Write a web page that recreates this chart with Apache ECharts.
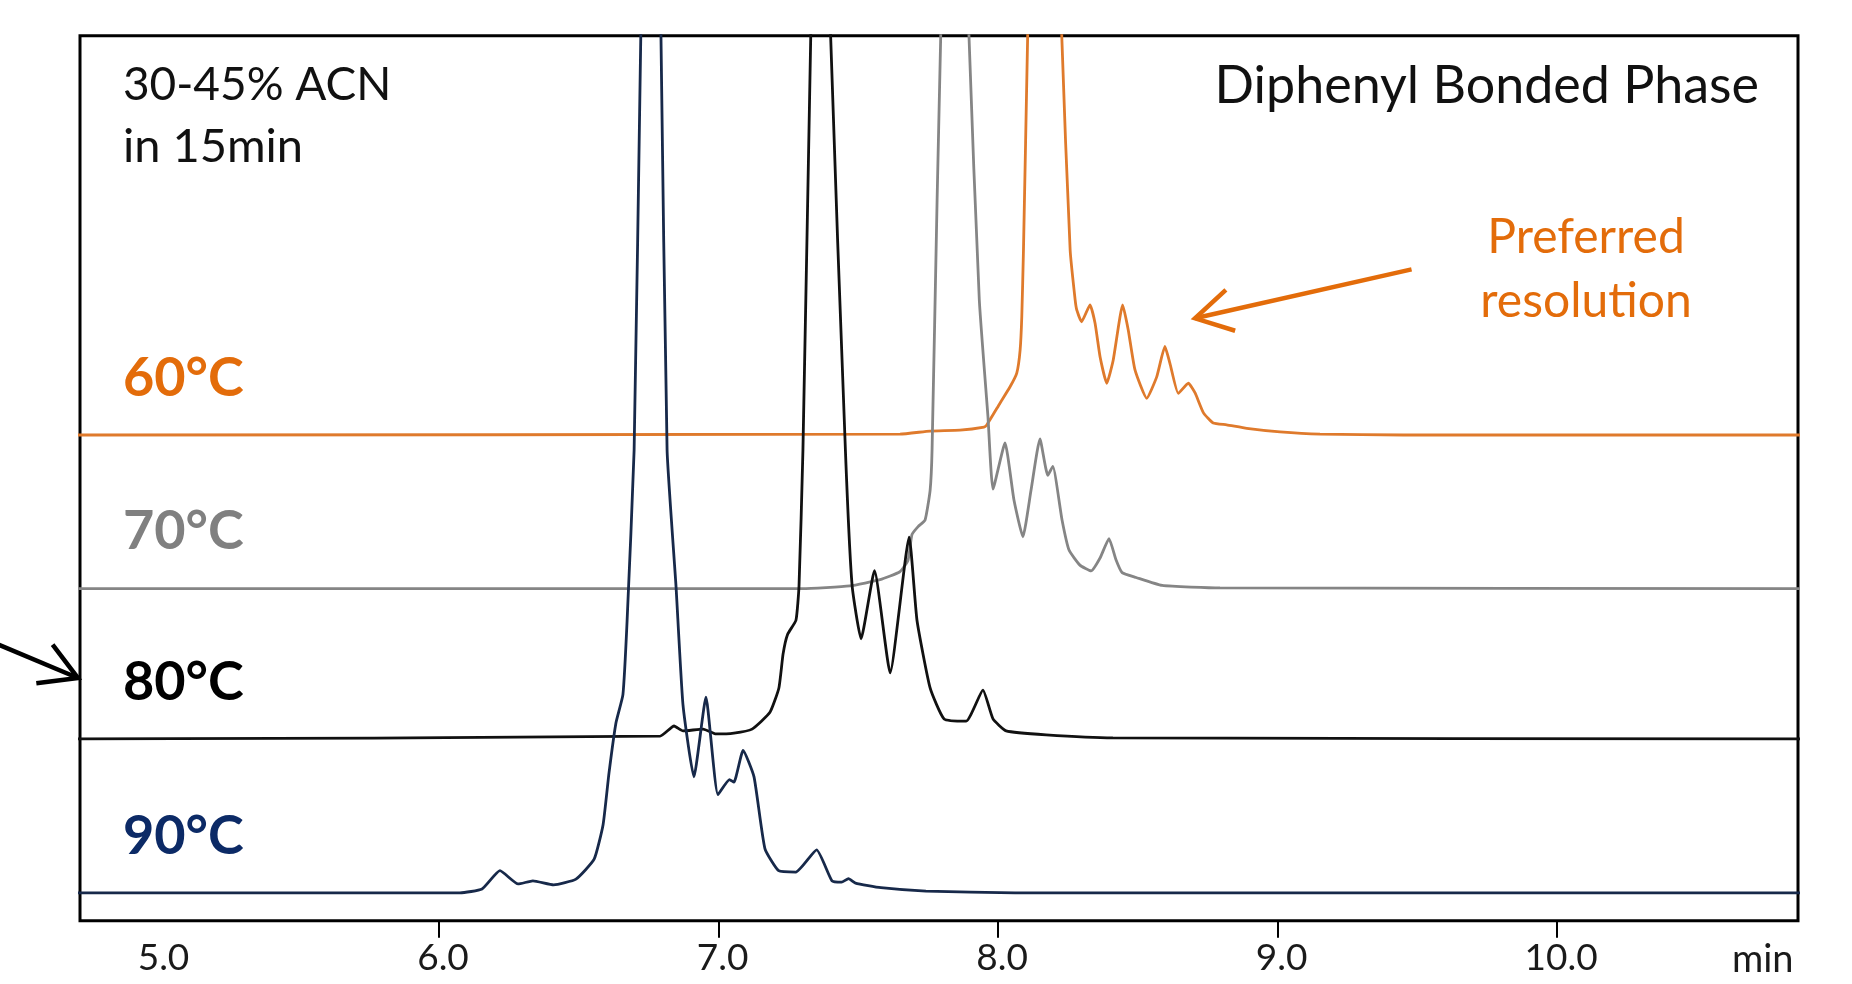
<!DOCTYPE html>
<html>
<head>
<meta charset="utf-8">
<script src="https://cdn.jsdelivr.net/npm/echarts@6/dist/echarts.min.js"></script>
<style>
html,body{margin:0;padding:0;background:#fff;}
#c{width:1852px;height:984px;}
</style>
</head>
<body>
<div id="c"></div>
<script>
// ---------- data ----------
const xTicks  = [6, 7, 8, 9, 10];
const xLabels = [5, 6, 7, 8, 9, 10];
const xUnit   = 'min';
const temps   = ['60°C', '70°C', '80°C', '90°C'];
const baselines = [54.88, 37.53, 20.55, 3.15];   // vertical offset of each trace

// 60°C (orange)
const t60 = [4.70, 7.649, 7.757, 7.864, 7.950, 7.959, 8.007, 8.043, 8.067, 8.079, 8.085, 8.091, 8.106, 8.167, 8.228, 8.258, 8.276, 8.282, 8.299, 8.329, 8.347, 8.365, 8.389, 8.412, 8.446, 8.466, 8.490, 8.532, 8.568, 8.597, 8.615, 8.645, 8.681, 8.705, 8.735, 8.770, 8.818, 8.890, 9.009, 9.152, 9.45, 10.90];
const h60 = [0, 0.1, 0.45, 0.55, 0.9, 1.1, 3.6, 5.45, 7.0, 9.6, 13.4, 20.9, 45.1, 143, 45.1, 20.9, 15.25, 14.1, 12.8, 14.7, 12.65, 8.85, 5.85, 8.45, 14.7, 11.85, 7.35, 4.15, 6.6, 10.0, 8.1, 4.7, 5.85, 4.75, 2.5, 1.35, 1.15, 0.75, 0.35, 0.1, 0, 0];

// 70°C (grey)
const t70 = [4.70, 7.300, 7.470, 7.578, 7.649, 7.678, 7.692, 7.714, 7.739, 7.757, 7.764, 7.782, 7.795, 7.846, 7.896, 7.933, 7.964, 7.982, 8.025, 8.057, 8.089, 8.118, 8.150, 8.178, 8.196, 8.229, 8.254, 8.293, 8.333, 8.365, 8.397, 8.422, 8.444, 8.494, 8.587, 8.794, 10.90];
const h70 = [0, 0, 0.3, 1.0, 1.9, 3.2, 6.1, 7.0, 7.75, 11.1, 15.7, 43.9, 62.5, 135, 62.5, 32.6, 19.4, 11.25, 16.45, 10.0, 5.85, 11.1, 16.9, 12.8, 13.8, 7.75, 4.35, 2.65, 2.0, 3.45, 5.65, 3.25, 1.8, 1.25, 0.35, 0.07, 0];

// 80°C (black)
const t80 = [4.70, 6.791, 6.841, 6.873, 6.945, 6.991, 7.055, 7.120, 7.184, 7.216, 7.231, 7.247, 7.277, 7.288, 7.302, 7.330, 7.366, 7.401, 7.454, 7.478, 7.510, 7.558, 7.614, 7.682, 7.710, 7.757, 7.807, 7.886, 7.946, 7.982, 8.029, 8.172, 8.411, 10.90];
const h80 = [0, 0.3, 1.45, 0.9, 1.1, 0.55, 0.65, 1.1, 3.0, 5.75, 9.6, 11.8, 13.4, 17.3, 32.6, 79.5, 140, 79.5, 32.6, 17.3, 11.3, 19.0, 7.45, 22.8, 13.4, 5.75, 2.25, 2.0, 5.5, 2.25, 0.9, 0.45, 0.1, 0];

// 90°C (navy)
const t90 = [4.70, 6.075, 6.154, 6.218, 6.283, 6.336, 6.410, 6.490, 6.555, 6.587, 6.608, 6.633, 6.658, 6.673, 6.698, 6.722, 6.758, 6.794, 6.816, 6.848, 6.873, 6.912, 6.955, 6.998, 7.039, 7.055, 7.088, 7.127, 7.166, 7.215, 7.277, 7.351, 7.406, 7.440, 7.465, 7.490, 7.581, 7.742, 8.061, 10.90];
const h90 = [0, 0, 0.43, 2.5, 1.0, 1.35, 0.9, 1.55, 3.8, 7.7, 13.5, 19.2, 22.4, 30.8, 50.0, 97, 170, 97, 50.0, 34.6, 21.2, 13.1, 22.1, 11.1, 12.8, 12.5, 16.1, 13.1, 5.0, 2.5, 2.35, 4.85, 1.35, 1.2, 1.6, 1.1, 0.58, 0.2, 0, 0];

// ---------- styling ----------
const FONT = 'Lato, "Noto Sans", sans-serif';
const lineColors = ['#DF7A2C', '#858585', '#111111', '#17294A'];
const textColors = ['#E36C0A', '#808080', '#000000', '#0C2A66'];
const ORANGE = '#E36C0A';

const traces = [[t60, h60], [t70, h70], [t80, h80], [t90, h90]];

const series = traces.map((tr, i) => ({
  name: temps[i],
  type: 'line',
  data: tr[0].map((t, k) => [t, baselines[i] + tr[1][k]]),
  showSymbol: false,
  symbol: 'none',
  clip: true,
  smooth: 0.15,
  lineStyle: { color: lineColors[i], width: 2.8 },
  z: 2 + i
}));

const chart = echarts.init(document.getElementById('c'), null, { renderer: 'canvas' });

const option = {
  animation: false,
  backgroundColor: '#fff',
  grid: {
    left: 80, right: 54, top: 35.7, bottom: 63.3,
    show: true, borderColor: '#000', borderWidth: 3,
    backgroundColor: 'rgba(0,0,0,0)',
    containLabel: false, outerBoundsMode: 'none'
  },
  xAxis: {
    type: 'value', min: 4.7156, max: 10.862,
    axisLine: { show: false },
    splitLine: { show: false },
    axisTick: { show: true, customValues: xTicks, length: 17, lineStyle: { color: '#000', width: 2 } },
    axisLabel: {
      customValues: xLabels,
      formatter: v => v.toFixed(1),
      fontSize: 37, color: '#1a1a1a', margin: 19, fontFamily: FONT,
      padding: [0, 0, 0, 8]
    }
  },
  yAxis: { type: 'value', min: 0, max: 100, show: false },
  series: series
};
chart.setOption(option);

// ---------- annotations, anchored in data coordinates ----------
const px = (t, v) => chart.convertToPixel({ xAxisIndex: 0, yAxisIndex: 0 }, [t, v]);

const notes = [
  { text: '30-45% ACN', at: [4.869, 94.43], align: 'left', size: 46, color: '#111', weight: 'normal' },
  { text: 'in 15min', at: [4.869, 87.49], align: 'left', size: 47, color: '#111', weight: 'normal' },
  { text: 'Diphenyl Bonded Phase', at: [10.7227, 94.26], align: 'right', size: 52, color: '#111', weight: 'normal' },
  { text: 'Preferred', at: [10.1037, 77.2], align: 'center', size: 48, color: ORANGE, weight: 'normal' },
  { text: 'resolution', at: [10.1037, 70.02], align: 'center', size: 48, color: ORANGE, weight: 'normal' },
  { text: xUnit, at: [10.846, -4.4], align: 'right', size: 38, color: '#1a1a1a', weight: 'normal' }
];
temps.forEach((s, i) => notes.push({ text: s, at: [4.869, baselines[i] + 6.4], align: 'left', size: 54, color: textColors[i], weight: 'bold' }));

const graphics = notes.map(n => {
  const p = px(n.at[0], n.at[1]);
  return {
    type: 'text', x: p[0], y: p[1], z: 20,
    style: { text: n.text, fill: n.color, fontSize: n.size, fontFamily: FONT, fontWeight: n.weight, align: n.align, verticalAlign: 'middle' }
  };
});

function arrow(tail, tip, color) {
  const a = px(tail[0], tail[1]);
  const b = px(tip[0], tip[1]);
  const dx = a[0] - b[0], dy = a[1] - b[1];
  const len = Math.hypot(dx, dy);
  const ux = dx / len, uy = dy / len;
  const L = 42, th = 30 * Math.PI / 180;
  const w1 = [b[0] + L * (ux * Math.cos(th) - uy * Math.sin(th)), b[1] + L * (ux * Math.sin(th) + uy * Math.cos(th))];
  const w2 = [b[0] + L * (ux * Math.cos(-th) - uy * Math.sin(-th)), b[1] + L * (ux * Math.sin(-th) + uy * Math.cos(-th))];
  return [
    { type: 'polyline', z: 20, shape: { points: [a, b] }, style: { stroke: color, lineWidth: 4.5, fill: null } },
    { type: 'polyline', z: 20, shape: { points: [w1, b, w2] }, style: { stroke: color, lineWidth: 4.5, fill: null, lineJoin: 'miter' } }
  ];
}
graphics.push(...arrow([9.4794, 73.6], [8.7048, 68.07], ORANGE));
graphics.push(...arrow([4.3936, 31.6], [4.7084, 27.42], '#000'));

chart.setOption({ graphic: graphics });
</script>
</body>
</html>
